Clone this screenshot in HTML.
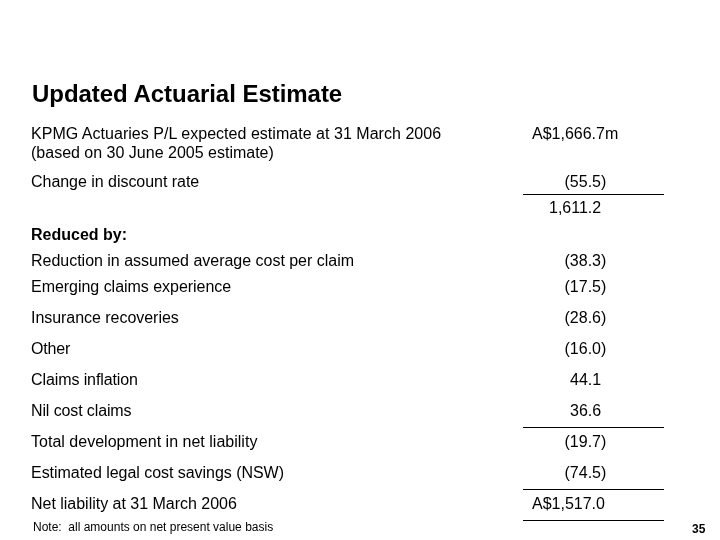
<!DOCTYPE html>
<html>
<head>
<meta charset="utf-8">
<title>Updated Actuarial Estimate</title>
<style>
html,body{margin:0;padding:0;background:#fff;}
body{width:720px;height:540px;position:relative;overflow:hidden;font-family:"Liberation Sans",Arial,Helvetica,sans-serif;color:#000;}
.t{position:absolute;white-space:nowrap;font-size:16px;line-height:20px;height:20px;}
.l{left:31px;}
.b{font-weight:bold;}
h1{position:absolute;left:32px;top:80px;margin:0;font-size:24px;line-height:28px;letter-spacing:-0.04px;font-weight:bold;white-space:nowrap;}
.rule{position:absolute;left:523px;width:141px;height:1px;background:#000;}
.note{position:absolute;left:33px;top:520px;font-size:12px;line-height:14px;white-space:pre;}
.pg{position:absolute;left:692px;top:522px;font-size:12px;line-height:14px;font-weight:bold;}
</style>
</head>
<body>
<h1>Updated Actuarial Estimate</h1>

<div class="t l" style="top:124px;letter-spacing:0.03px">KPMG Actuaries P/L expected estimate at 31 March 2006</div>
<div class="t l" style="top:143px">(based on 30 June 2005 estimate)</div>
<div class="t" style="left:532px;top:124px">A$1,666.7m</div>

<div class="t l" style="top:172px;letter-spacing:-0.035px">Change in discount rate</div>
<div class="t" style="left:564.5px;top:172px">(55.5)</div>
<div class="rule" style="top:194px"></div>
<div class="t" style="left:549px;top:198px">1,611.2</div>

<div class="t l b" style="top:225px">Reduced by:</div>

<div class="t l" style="top:251px;letter-spacing:-0.017px">Reduction in assumed average cost per claim</div>
<div class="t" style="left:564.5px;top:251px">(38.3)</div>

<div class="t l" style="top:277px;letter-spacing:-0.03px">Emerging claims experience</div>
<div class="t" style="left:564.5px;top:277px">(17.5)</div>

<div class="t l" style="top:308px;letter-spacing:-0.04px">Insurance recoveries</div>
<div class="t" style="left:564.5px;top:308px">(28.6)</div>

<div class="t l" style="top:339px;letter-spacing:-0.2px">Other</div>
<div class="t" style="left:564.5px;top:339px">(16.0)</div>

<div class="t l" style="top:370px;letter-spacing:-0.1px">Claims inflation</div>
<div class="t" style="left:570px;top:370px">44.1</div>

<div class="t l" style="top:401px;letter-spacing:-0.12px">Nil cost claims</div>
<div class="t" style="left:570px;top:401px">36.6</div>
<div class="rule" style="top:427px"></div>

<div class="t l" style="top:432px;letter-spacing:0.015px">Total development in net liability</div>
<div class="t" style="left:564.5px;top:432px">(19.7)</div>

<div class="t l" style="top:463px;letter-spacing:-0.04px">Estimated legal cost savings (NSW)</div>
<div class="t" style="left:564.5px;top:463px">(74.5)</div>
<div class="rule" style="top:489px"></div>

<div class="t l" style="top:494px;letter-spacing:-0.017px">Net liability at 31 March 2006</div>
<div class="t" style="left:532px;top:494px">A$1,517.0</div>
<div class="rule" style="top:520px"></div>

<div class="note">Note:  all amounts on net present value basis</div>
<div class="pg">35</div>
</body>
</html>
